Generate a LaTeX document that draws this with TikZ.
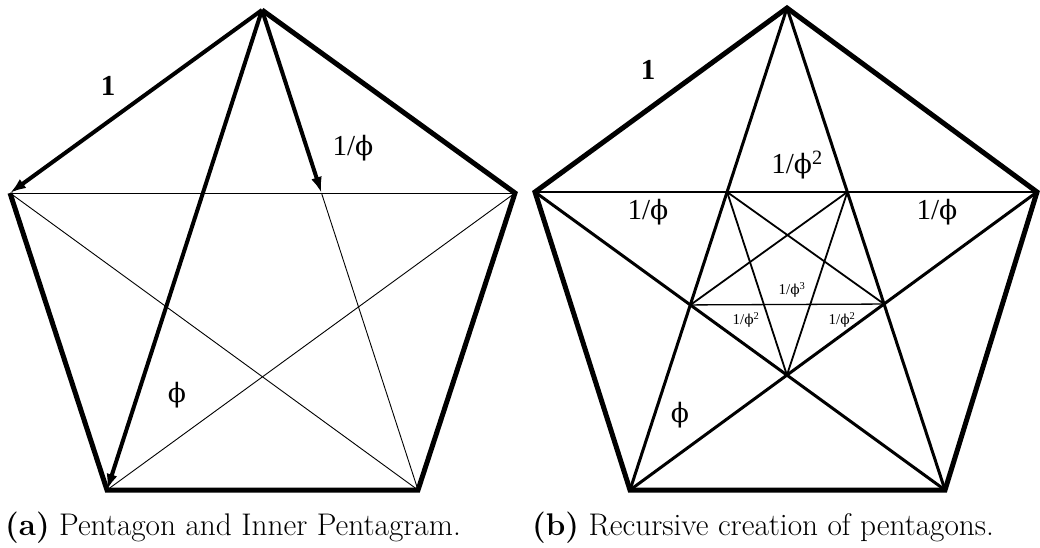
\documentclass[tikz,border=0pt]{standalone}
\usepackage{fontspec}
\usetikzlibrary{arrows.meta}
\newfontfamily\labfont{Liberation Serif}
\newfontfamily\phifont{DejaVu Serif}[Scale=0.92]
\newcommand\gphi{{\phifont ϕ}}

\begin{document}
\begin{tikzpicture}[
    x=1pt, y=-1pt,
    edge/.style={line width=5pt, line join=miter},
    diag/.style={line width=3pt},
    inner/.style={line width=1.8pt},
    fine/.style={line width=0.9pt},
    arrow/.style={-{Latex[length=16pt,width=11pt]}, line width=4pt},
    lab/.style={font=\labfont\fontsize{29}{32}\selectfont, inner sep=0pt},
    tinylab/.style={font=\labfont\fontsize{15}{16}\selectfont, inner sep=0pt},
    caption/.style={font=\fontsize{31.3}{38}\selectfont, anchor=base west, inner sep=0pt}
]
\useasboundingbox (0,0) rectangle (1040,547);

% Left pentagon corners
\coordinate (aT) at (262,10);
\coordinate (aL) at (10,193);
\coordinate (aR) at (515,193);
\coordinate (aBL) at (107,490);
\coordinate (aBR) at (418,490);
\coordinate (aP) at (intersection of aT--aBR and aL--aR);

% Left pentagon edges and diagonals
\draw[edge] (aT) -- (aR) -- (aBR) -- (aBL) -- (aL);
\draw[arrow] (aT) -- (aL);
\draw[arrow] (aT) -- (aBL);
\draw[arrow] (aT) -- (aP);
\draw[fine] (aP) -- (aBR);
\draw[fine] (aL) -- (aR);
\draw[fine] (aL) -- (aBR);
\draw[fine] (aR) -- (aBL);

\node[lab] (aone) at (108,86) {\textbf{1}};
\node[lab] (ainv) at (353,148) {1/\gphi};
\node[lab] (aphi) at (177,395) {\gphi};

% Right pentagon corners
\coordinate (bT) at (787,8);
\coordinate (bL) at (535,192);
\coordinate (bR) at (1037,192);
\coordinate (bBL) at (630,490);
\coordinate (bBR) at (945,490);

% Inner pentagon from the diagonals
\coordinate (bA) at (intersection of bT--bBL and bL--bR);
\coordinate (bB) at (intersection of bT--bBR and bL--bR);
\coordinate (bC) at (intersection of bT--bBR and bR--bBL);
\coordinate (bD) at (intersection of bL--bBR and bR--bBL);
\coordinate (bE) at (intersection of bT--bBL and bL--bBR);

\draw[edge] (bT) -- (bR) -- (bBR) -- (bBL) -- (bL) -- cycle;
\draw[diag] (bT) -- (bBL);
\draw[diag] (bT) -- (bBR);
\draw[diag] (bL) -- (bBR);
\draw[diag] (bR) -- (bBL);
\draw[line width=2.2pt] (bL) -- (bR);

% Inner pentagram
\draw[inner] (bA) -- (bC);
\draw[inner] (bA) -- (bD);
\draw[inner] (bB) -- (bD);
\draw[inner] (bB) -- (bE);
\draw[line width=1.3pt] (bE) -- (bC);

\node[lab] (bone) at (648,70) {\textbf{1}};
\node[lab] (binvsq) at (797,165) {1/\gphi\textsuperscript{2}};
\node[lab] (binvl) at (648,212) {1/\gphi};
\node[lab] (binvr) at (937,212) {1/\gphi};
\node[tinylab] (binvcube) at (792,290) {1/\gphi\textsuperscript{3}};
\node[tinylab] (binvsql) at (746,320) {1/\gphi\textsuperscript{2}};
\node[tinylab] (binvsqr) at (842,320) {1/\gphi\textsuperscript{2}};
\node[lab] (bphi) at (680,415) {\gphi};

% Captions
\node[caption] (capa) at (5,535) {\textbf{(a)} Pentagon and Inner Pentagram.};
\node[caption] (capb) at (532,535) {\textbf{(b)} Recursive creation of pentagons.};

\end{tikzpicture}
\end{document}
